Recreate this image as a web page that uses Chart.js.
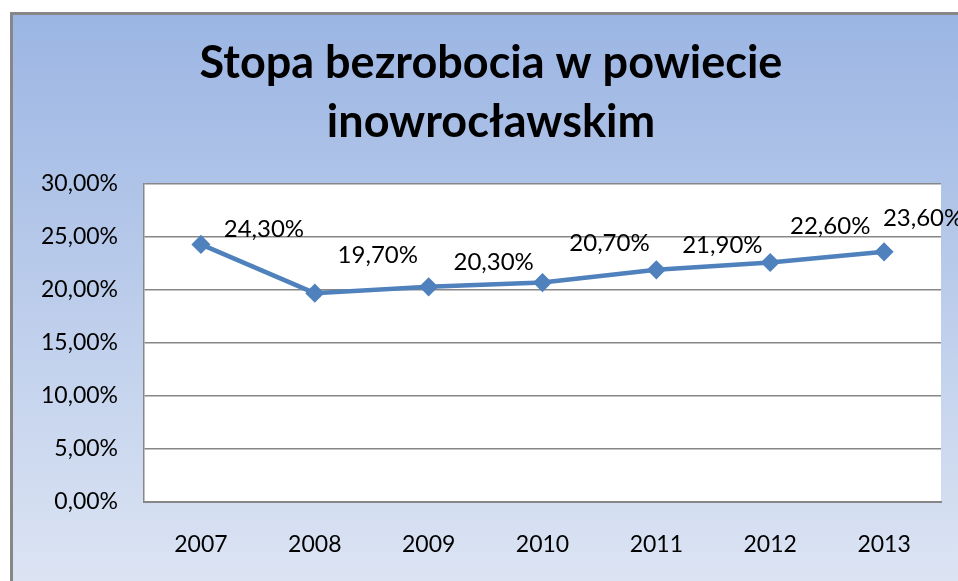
<!DOCTYPE html>
<html>
<head>
<meta charset="utf-8">
<script src="https://cdn.jsdelivr.net/npm/chart.js@4/dist/chart.umd.min.js"></script>
<style>
  html, body { margin: 0; padding: 0; background: #ffffff; }
  #wrap { position: relative; width: 958px; height: 581px; }
</style>
</head>
<body>
<div id="wrap"><canvas id="c" width="958" height="581"></canvas></div>
<script>
const titleLines = ['Stopa bezrobocia w powiecie', 'inowrocławskim'];
const years = ['2007', '2008', '2009', '2010', '2011', '2012', '2013'];
const rates = [24.3, 19.7, 20.3, 20.7, 21.9, 22.6, 23.6];
const yMin = 0, yMax = 30, yStep = 5;

function pl(v) { return v.toFixed(2).replace('.', ',') + '%'; }

const bgPlugin = {
  id: 'bgPlugin',
  beforeDraw(chart) {
    const ctx = chart.ctx;
    const W = chart.width, H = chart.height;
    ctx.save();
    ctx.fillStyle = '#ffffff';
    ctx.fillRect(0, 0, W, H);
    const g = ctx.createLinearGradient(0, 13, 0, H);
    g.addColorStop(0, '#9BB5E3');
    g.addColorStop(1, '#DCE4F3');
    ctx.fillStyle = g;
    ctx.fillRect(11, 13, W, H);
    ctx.strokeStyle = '#878787';
    ctx.lineWidth = 3;
    ctx.beginPath();
    ctx.moveTo(11.5, H + 5);
    ctx.lineTo(11.5, 13.5);
    ctx.lineTo(W + 5, 13.5);
    ctx.stroke();
    // plot area
    const a = chart.chartArea;
    ctx.fillStyle = '#ffffff';
    ctx.fillRect(a.left, a.top, a.right - a.left, a.bottom - a.top);
    // title
    ctx.fillStyle = '#000000';
    ctx.font = 'bold 45px Lato';
    ctx.textAlign = 'center';
    ctx.textBaseline = 'alphabetic';
    ctx.fillText(titleLines[0], 491, 78);
    ctx.fillText(titleLines[1], 491, 137);
    ctx.restore();
  }
};

const labelPlugin = {
  id: 'labelPlugin',
  afterDatasetsDraw(chart, args, opts) {
    const ctx = chart.ctx;
    const meta = chart.getDatasetMeta(0);
    ctx.save();
    ctx.fillStyle = '#000000';
    ctx.font = '24px Lato';
    ctx.textAlign = 'center';
    ctx.textBaseline = 'middle';
    meta.data.forEach((pt, i) => {
      const off = opts.offsets[i] || [60, -30];
      ctx.fillText(pl(chart.data.datasets[0].data[i]), pt.x + off[0], pt.y + off[1]);
    });
    ctx.restore();
  }
};

new Chart(document.getElementById('c'), {
  type: 'line',
  data: {
    labels: years,
    datasets: [{
      data: rates,
      borderColor: '#4F81BD',
      backgroundColor: '#4F81BD',
      borderWidth: 4.5,
      pointStyle: 'rectRot',
      pointRadius: 8.5,
      pointBorderWidth: 1.5,
      pointBackgroundColor: '#4F81BD',
      pointBorderColor: '#4F81BD',
      tension: 0,
      clip: false
    }]
  },
  options: {
    responsive: false,
    animation: false,
    devicePixelRatio: 1,
    layout: { padding: { left: 0, right: 17, top: 184, bottom: 0 } },
    plugins: {
      legend: { display: false },
      title: { display: false },
      tooltip: { enabled: false },
      labelPlugin: {
        offsets: [[63, -15], [63, -38], [65, -25], [67, -39], [66, -25], [60, -36], [39, -34]]
      }
    },
    scales: {
      x: {
        offset: true,
        grid: { display: false, drawTicks: false },
        border: { display: true, color: '#878787', width: 2 },
        ticks: { color: '#000000', font: { family: 'Lato', size: 23 }, padding: 29, maxRotation: 0 },
        afterFit(scale) { scale.height = 79; }
      },
      y: {
        min: yMin,
        max: yMax,
        grid: { color: '#878787', lineWidth: 1.5, drawTicks: false },
        border: { display: true, color: '#878787', width: 1.5 },
        ticks: {
          stepSize: yStep,
          color: '#000000',
          font: { family: 'Lato', size: 23 },
          padding: 26,
          callback: (v) => pl(v)
        },
        afterFit(scale) { scale.width = 144; }
      }
    }
  },
  plugins: [bgPlugin, labelPlugin]
});
</script>
</body>
</html>
